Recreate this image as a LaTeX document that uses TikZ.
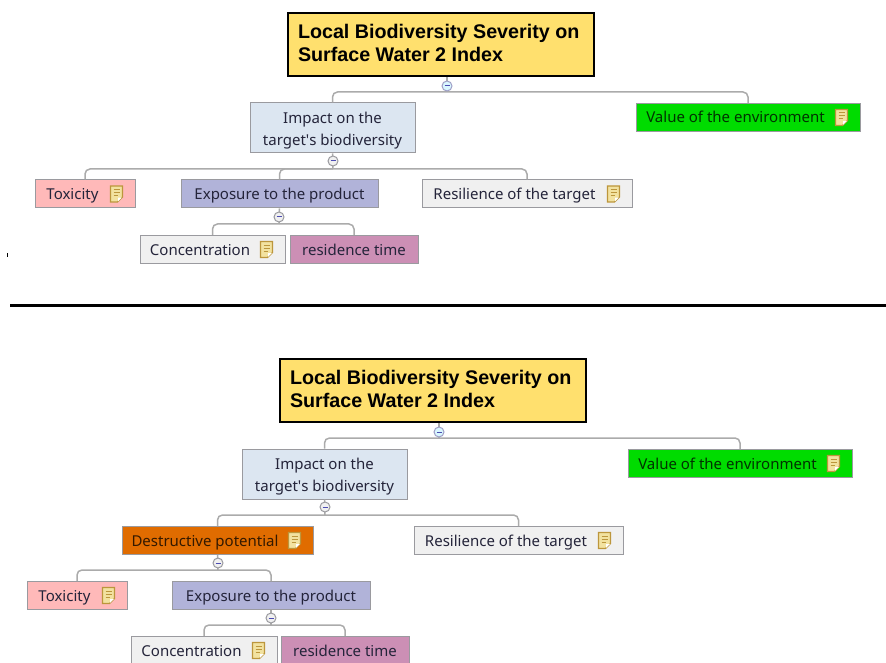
\documentclass[tikz,border=0pt]{standalone}
\usepackage{fontspec}
\setmainfont{Noto Sans}
\newfontfamily\titlefont{Liberation Sans}
\definecolor{titlefill}{HTML}{FFE06E}
\definecolor{impactfill}{HTML}{DCE6F1}
\definecolor{valuefill}{HTML}{00DC00}
\definecolor{toxfill}{HTML}{FFB9B9}
\definecolor{expofill}{HTML}{B1B3D9}
\definecolor{plainfill}{HTML}{F0F0F0}
\definecolor{timefill}{HTML}{CC8FB5}
\definecolor{destrfill}{HTML}{E06C00}
\definecolor{boxline}{HTML}{9A9A9F}
\definecolor{linkline}{HTML}{ABABAB}
\definecolor{boxtext}{HTML}{24243A}
\definecolor{iconfill}{HTML}{F2E2A0}
\definecolor{iconline}{HTML}{BC963C}
\newcommand{\notegap}{\hspace{25pt}}
\tikzset{
    titlebox/.style={draw=black, line width=2.8pt, fill=titlefill, minimum width=306pt, minimum height=63pt, inner sep=0pt,
        font=\titlefont\bfseries\fontsize{19.7}{23}\selectfont, align=left, text=black},
    mapbox/.style={draw=boxline, line width=1pt, minimum height=28pt, inner sep=0pt, text=boxtext,
        font=\fontsize{15}{22}\selectfont, align=center},
    onebox/.style={mapbox, text height=14.5pt, text depth=3.5pt},
    treelink/.style={draw=linkline, line width=1.5pt, rounded corners=5pt},
    knob/.style={circle, draw=boxline, line width=1pt, fill=plainfill, minimum size=10pt, inner sep=0pt,
        path picture={\draw[blue!40!gray, line width=1pt] ([xshift=2.5pt]path picture bounding box.west) -- ([xshift=-2.5pt]path picture bounding box.east);}},
    rootknob/.style={knob, draw=blue!25!gray!60, fill=blue!20!cyan!15},
    noteicon/.pic={
        \draw[draw=iconline, line width=1.2pt, fill=iconfill] (-6,-8) -- (6,-8) -- (6,3) -- (1,8) -- (-6,8) -- cycle;
        \draw[draw=iconline, line width=1pt] (-3,-4.5) -- (3,-4.5) (-3,-1.5) -- (3,-1.5) (-3,1.5) -- (1,1.5);
        \fill[white] (5.4,3.6) -- (1.5,7.4) -- (1.5,3.6) -- cycle;
    }
}
\begin{document}
\begin{tikzpicture}[x=1pt, y=-1pt]
    \useasboundingbox (0,0) rectangle (886,663);

    % === Top tree ===
    \node[titlebox] (title) at (441,44.5) {\parbox{286pt}{Local Biodiversity Severity on\\Surface Water 2 Index\vspace{4pt}}};
    \coordinate (bar) at (447,92);

    \node[mapbox, fill=impactfill, minimum width=165pt, minimum height=50pt] (impact) at (332.5,128) {\rule{0pt}{16pt}Impact on the\\target\textquotesingle s biodiversity};
    \node[onebox, fill=valuefill, minimum width=224pt, text=black!80!green] (value) at (748,117.5) {Value of the environment\notegap};
    \coordinate (barA) at (333,169);

    \node[onebox, fill=toxfill, minimum width=100pt] (tox) at (85,194) {Toxicity\notegap};
    \node[onebox, fill=expofill, minimum width=197pt] (expo) at (279.5,194) {Exposure to the product};
    \node[onebox, fill=plainfill, minimum width=210pt] (resil) at (527,194) {Resilience of the target\notegap};
    \coordinate (barB) at (279,224);

    \node[onebox, fill=plainfill, minimum width=145pt] (conc) at (212.5,249.5) {Concentration\notegap};
    \node[onebox, fill=timefill, minimum width=128pt] (rtime) at (354,249.5) {residence time};

    \draw[treelink] (title.south -| bar) -- (bar);
    \draw[treelink] (impact.north) |- (bar) -| (value.north);
    \draw[treelink] (impact.south) -- (barA);
    \draw[treelink] (tox.north) |- (barA) -| (resil.north);
    \draw[treelink] (expo.north) |- (barA);
    \draw[treelink] (expo.south) -- (barB);
    \draw[treelink] (conc.north) |- (barB) -| (rtime.north);

    \node[rootknob] (knob) at (447,86) {};
    \node[knob] (knobA) at (333,161) {};
    \node[knob] (knobB) at (279,217) {};

    \pic at ([xshift=-19pt]value.east) {noteicon};
    \pic at ([xshift=-19pt]tox.east) {noteicon};
    \pic at ([xshift=-19pt]resil.east) {noteicon};
    \pic at ([xshift=-19pt]conc.east) {noteicon};

    % Stray mark and divider
    \draw[black, line width=1pt] (7,253) -- (7,257);
    \draw[black, line width=3pt] (10,305.5) -- (886,305.5);

    % === Bottom tree ===
    \begin{scope}[shift={(-8,346)}]
        \node[titlebox] (title2) at (441,44.5) {\parbox{286pt}{Local Biodiversity Severity on\\Surface Water 2 Index\vspace{4pt}}};
        \coordinate (bar2) at (447,92);

        \node[mapbox, fill=impactfill, minimum width=165pt, minimum height=50pt] (impact2) at (332.5,128) {\rule{0pt}{16pt}Impact on the\\target\textquotesingle s biodiversity};
        \node[onebox, fill=valuefill, minimum width=224pt, text=black!80!green] (value2) at (748,117.5) {Value of the environment\notegap};
        \coordinate (barA2) at (333,169);

        \node[onebox, fill=destrfill, minimum width=191pt, text=black!80!orange] (destr2) at (225.5,194.5) {Destructive potential\notegap};
        \node[onebox, fill=plainfill, minimum width=209pt] (resil2) at (526.5,194.5) {Resilience of the target\notegap};
        \coordinate (barB2) at (226,224);

        \node[onebox, fill=toxfill, minimum width=100pt] (tox2) at (85,249.5) {Toxicity\notegap};
        \node[onebox, fill=expofill, minimum width=198pt] (expo2) at (279,249.5) {Exposure to the product};
        \coordinate (barC2) at (279,279);

        \node[onebox, fill=plainfill, minimum width=146pt] (conc2) at (212,304.5) {Concentration\notegap};
        \node[onebox, fill=timefill, minimum width=128pt] (rtime2) at (353,304.5) {residence time};

        \draw[treelink] (title2.south -| bar2) -- (bar2);
        \draw[treelink] (impact2.north) |- (bar2) -| (value2.north);
        \draw[treelink] (impact2.south) -- (barA2);
        \draw[treelink] (destr2.north) |- (barA2) -| (resil2.north);
        \draw[treelink] (destr2.south) -- (barB2);
        \draw[treelink] (tox2.north) |- (barB2) -| (expo2.north);
        \draw[treelink] (expo2.south) -- (barC2);
        \draw[treelink] (conc2.north) |- (barC2) -| (rtime2.north);

        \node[rootknob] (knob2) at (447,86) {};
        \node[knob] (knobA2) at (333,161) {};
        \node[knob] (knobB2) at (226,217) {};
        \node[knob] (knobC2) at (279,272) {};

        \pic at ([xshift=-19pt]value2.east) {noteicon};
        \pic at ([xshift=-19pt]destr2.east) {noteicon};
        \pic at ([xshift=-19pt]resil2.east) {noteicon};
        \pic at ([xshift=-19pt]tox2.east) {noteicon};
        \pic at ([xshift=-19pt]conc2.east) {noteicon};
    \end{scope}

\end{tikzpicture}
\end{document}
